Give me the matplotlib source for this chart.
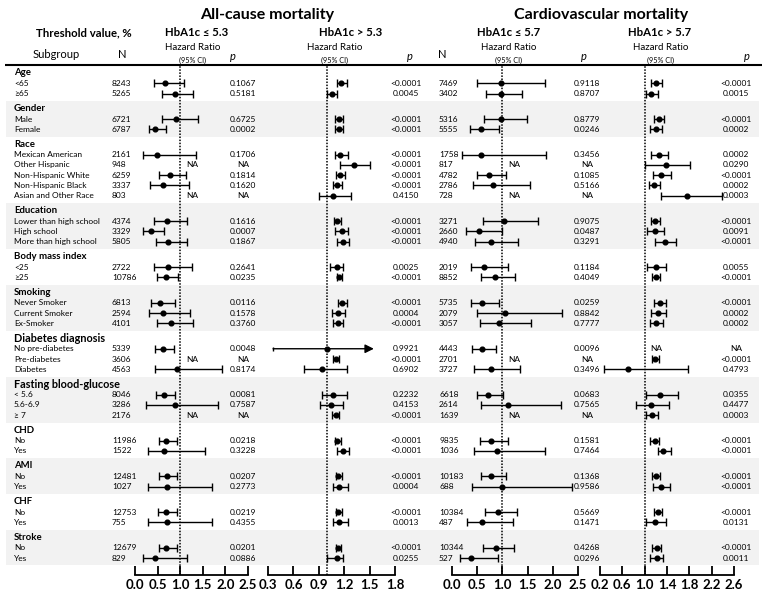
import numpy as np
import matplotlib
matplotlib.use("Agg")
import matplotlib.pyplot as plt

plt.rcParams['font.family'] = ['Lato', 'DejaVu Sans']

nan = np.nan

groups = ["Age", "Gender", "Race", "Education", "Body mass index", "Smoking",
          "Diabetes diagnosis", "Fasting blood-glucose", "CHD", "AMI", "CHF", "Stroke"]
subgroups = [
    ["<65", "≥65"],
    ["Male", "Female"],
    ["Mexican American", "Other Hispanic", "Non-Hispanic White", "Non-Hispanic Black", "Asian and Other Race"],
    ["Lower than high school", "High school", "More than high school"],
    ["<25", "≥25"],
    ["Never Smoker", "Current Smoker", "Ex-Smoker"],
    ["No pre-diabetes", "Pre-diabetes", "Diabetes"],
    ["< 5.6", "5.6-6.9", "≥ 7"],
    ["No", "Yes"],
    ["No", "Yes"],
    ["No", "Yes"],
    ["No", "Yes"],
]
big_headers = ["Diabetes diagnosis", "Fasting blood-glucose"]

# All-cause mortality
n_all = [8243, 5265, 6721, 6787, 2161, 948, 6259, 3337, 803, 4374, 3329, 5805, 2722, 10786,
         6813, 2594, 4101, 5339, 3606, 4563, 8046, 3286, 2176, 11986, 1522, 12481, 1027,
         12753, 755, 12679, 829]
hr1 = [0.66, 0.88, 0.91, 0.44, 0.49, nan, 0.77, 0.63, nan, 0.70, 0.35, 0.72, 0.72, 0.68, 0.55,
       0.61, 0.80, 0.63, nan, 0.92, 0.64, 0.88, nan, 0.69, 0.64, 0.70, 0.70, 0.69, 0.70, 0.69, 0.44]
lo1 = [0.41, 0.60, 0.60, 0.30, 0.17, nan, 0.54, 0.33, nan, 0.43, 0.18, 0.46, 0.43, 0.48, 0.35,
       0.32, 0.49, 0.44, nan, 0.44, 0.46, 0.24, nan, 0.52, 0.28, 0.52, 0.29, 0.50, 0.29, 0.52, 0.17]
hi1 = [1.08, 1.29, 1.40, 0.68, 1.36, nan, 1.12, 1.19, nan, 1.16, 0.64, 1.16, 1.27, 0.96, 0.88,
       1.22, 1.29, 0.86, nan, 1.92, 0.88, 1.83, nan, 0.94, 1.55, 0.94, 1.71, 0.94, 1.71, 0.92, 1.14]
p1 = ["0.1067", "0.5181", "0.6725", "0.0002", "0.1706", "NA", "0.1814", "0.1620", "NA", "0.1616",
      "0.0007", "0.1867", "0.2641", "0.0235", "0.0116", "0.1578", "0.3760", "0.0048", "NA",
      "0.8174", "0.0081", "0.7587", "NA", "0.0218", "0.3228", "0.0207", "0.2773", "0.0219",
      "0.4355", "0.0201", "0.0886"]

hr2 = [1.16, 1.05, 1.14, 1.14, 1.15, 1.32, 1.15, 1.12, 1.07, 1.12, 1.17, 1.19, 1.11, 1.14, 1.17,
       1.13, 1.13, 1.00, 1.10, 0.94, 1.07, 1.04, 1.10, 1.12, 1.18, 1.13, 1.14, 1.13, 1.14, 1.13, 1.11]
lo2 = [1.12, 1.00, 1.09, 1.09, 1.09, 1.15, 1.10, 1.07, 0.90, 1.08, 1.09, 1.12, 1.03, 1.11, 1.13,
       1.06, 1.07, 0.36, 1.07, 0.72, 0.94, 0.92, 1.06, 1.09, 1.11, 1.10, 1.07, 1.10, 1.07, 1.10, 1.00]
hi2 = [1.23, 1.11, 1.19, 1.19, 1.24, 1.51, 1.21, 1.17, 1.28, 1.16, 1.25, 1.26, 1.19, 1.17, 1.23,
       1.21, 1.19, 1.55, 1.14, 1.23, 1.23, 1.19, 1.14, 1.16, 1.26, 1.17, 1.24, 1.17, 1.24, 1.16, 1.19]
arrow2 = [False] * 17 + [True] + [False] * 13
p2 = ["<0.0001", "0.0045", "<0.0001", "<0.0001", "<0.0001", "<0.0001", "<0.0001", "<0.0001",
      "0.4150", "<0.0001", "<0.0001", "<0.0001", "0.0025", "<0.0001", "<0.0001", "0.0004",
      "<0.0001", "0.9921", "<0.0001", "0.6902", "0.2232", "0.4153", "<0.0001", "<0.0001",
      "<0.0001", "<0.0001", "0.0004", "<0.0001", "0.0013", "<0.0001", "0.0255"]

# Cardiovascular mortality
n_cvd = [7469, 3402, 5316, 5555, 1758, 817, 4782, 2786, 728, 3271, 2660, 4940, 2019, 8852, 5735,
         2079, 3057, 4443, 2701, 3727, 6618, 2614, 1639, 9835, 1036, 10183, 688, 10384, 487,
         10344, 527]
hr3 = [0.97, 0.97, 0.98, 0.58, 0.57, nan, 0.73, 0.81, nan, 1.03, 0.54, 0.77, 0.63, 0.85, 0.59,
       1.06, 0.93, 0.59, nan, 0.77, 0.72, 1.11, nan, 0.78, 0.89, 0.78, 0.99, 0.91, 0.60, 0.88, 0.38]
lo3 = [0.50, 0.68, 0.63, 0.36, 0.19, nan, 0.50, 0.42, nan, 0.62, 0.27, 0.45, 0.37, 0.58, 0.38,
       0.50, 0.56, 0.39, nan, 0.44, 0.50, 0.57, nan, 0.56, 0.44, 0.57, 0.40, 0.65, 0.30, 0.62, 0.16]
hi3 = [1.85, 1.38, 1.48, 0.93, 1.86, nan, 1.08, 1.55, nan, 1.71, 1.00, 1.31, 1.12, 1.25, 0.93,
       2.18, 1.57, 0.87, nan, 1.34, 1.02, 2.16, nan, 1.11, 1.85, 1.08, 2.39, 1.28, 1.21, 1.23, 0.92]
p3 = ["0.9118", "0.8707", "0.8779", "0.0246", "0.3456", "NA", "0.1085", "0.5166", "NA", "0.9075",
      "0.0487", "0.3291", "0.1184", "0.4049", "0.0259", "0.8842", "0.7777", "0.0096", "NA",
      "0.3496", "0.0683", "0.7565", "NA", "0.1581", "0.7464", "0.1368", "0.9586", "0.5669",
      "0.1471", "0.4268", "0.0296"]

hr4 = [1.20, 1.11, 1.26, 1.20, 1.26, 1.38, 1.29, 1.17, 1.75, 1.19, 1.18, 1.36, 1.20, 1.20, 1.27,
       1.23, 1.20, nan, 1.18, 0.71, 1.28, 1.11, 1.13, 1.18, 1.32, 1.20, 1.29, 1.24, 1.19, 1.22, 1.22]
lo4 = [1.11, 1.02, 1.17, 1.10, 1.11, 1.01, 1.15, 1.07, 1.29, 1.11, 1.05, 1.19, 1.05, 1.14, 1.17,
       1.11, 1.09, nan, 1.13, 0.28, 1.02, 0.84, 1.02, 1.10, 1.24, 1.13, 1.15, 1.16, 1.02, 1.14, 1.10]
hi4 = [1.31, 1.24, 1.35, 1.31, 1.41, 1.82, 1.47, 1.28, 2.39, 1.28, 1.35, 1.56, 1.38, 1.28, 1.38,
       1.39, 1.33, nan, 1.25, 1.78, 1.60, 1.44, 1.23, 1.26, 1.47, 1.28, 1.45, 1.31, 1.38, 1.29, 1.32]
p4 = ["<0.0001", "0.0015", "<0.0001", "0.0002", "0.0002", "0.0290", "<0.0001", "0.0002", "0.0003",
      "<0.0001", "0.0091", "<0.0001", "0.0055", "<0.0001", "<0.0001", "0.0002", "0.0002", "NA",
      "<0.0001", "0.4793", "0.0355", "0.4477", "0.0003", "<0.0001", "<0.0001", "<0.0001",
      "<0.0001", "<0.0001", "0.0131", "<0.0001", "0.0011"]

ticks1 = [0.0, 0.5, 1.0, 1.5, 2.0, 2.5]
ticks2 = [0.3, 0.6, 0.9, 1.2, 1.5, 1.8]
ticks3 = [0.0, 0.5, 1.0, 1.5, 2.0, 2.5]
ticks4 = [0.2, 0.6, 1.0, 1.4, 1.8, 2.2, 2.6]

# ---------------- layout ----------------
W, H = 767, 599
TOP, BASE = 65, 575
fig = plt.figure(figsize=(W / 100, H / 100), dpi=100)
bg = fig.add_axes([0, 0, 1, 1], zorder=0)
bg.set_xlim(0, W)
bg.set_ylim(H, 0)
bg.axis('off')

H1, S, G = 10.6, 10.25, 14.85
y = 72.7
header_y, item_y = [], []
for gi, items in enumerate(subgroups):
    if gi > 0:
        y += G
    header_y.append(y)
    for k in range(len(items)):
        y += H1 if k == 0 else S
        item_y.append(y)
item_y = np.array(item_y)

# shaded bands
idx = 0
for gi, items in enumerate(subgroups):
    idx += len(items)
    if gi % 2 == 1:
        bg.axhspan(header_y[gi] - G / 2, item_y[idx - 1] + G / 2, xmin=6 / W, xmax=759 / W,
                   color='#f2f2f2', lw=0, zorder=0)

SMALL = 6.0
# group headers and labels
idx = 0
for gi, items in enumerate(subgroups):
    fs = 7.8 if groups[gi] in big_headers else 6.9
    bg.text(14, header_y[gi], groups[gi], fontsize=fs, fontweight='bold', va='center', ha='left')
    for lab in items:
        bg.text(14, item_y[idx], lab, fontsize=SMALL, va='center', ha='left')
        idx += 1

for i in range(len(item_y)):
    yy = item_y[i]
    bg.text(112, yy, str(n_all[i]), fontsize=SMALL, va='center', ha='left')
    bg.text(243, yy, p1[i], fontsize=SMALL, va='center', ha='center')
    bg.text(406, yy, p2[i], fontsize=SMALL, va='center', ha='center')
    bg.text(439, yy, str(n_cvd[i]), fontsize=SMALL, va='center', ha='left')
    bg.text(587, yy, p3[i], fontsize=SMALL, va='center', ha='center')
    bg.text(736, yy, p4[i], fontsize=SMALL, va='center', ha='center')

# column headers
bg.text(267, 15, "All-cause mortality", fontsize=11.5, fontweight='bold', ha='center', va='center')
bg.text(601, 15, "Cardiovascular mortality", fontsize=11.5, fontweight='bold', ha='center', va='center')
bg.text(84, 33, "Threshold value, %", fontsize=8.2, fontweight='bold', ha='center', va='center')
for xc, t in [(197, "HbA1c ≤ 5.3"), (351, "HbA1c > 5.3"), (509, "HbA1c ≤ 5.7"), (660, "HbA1c > 5.7")]:
    bg.text(xc, 33, t, fontsize=8.2, fontweight='bold', ha='center', va='center',
            family=['Lato', 'DejaVu Sans'])
bg.text(56, 55, "Subgroup", fontsize=8, ha='center', va='center')
bg.text(122, 55, "N", fontsize=8, ha='center', va='center')
bg.text(442, 55, "N", fontsize=8, ha='center', va='center')
for xc in [193, 335, 509, 661]:
    bg.text(xc, 48, "Hazard Ratio", fontsize=7, ha='center', va='center')
    bg.text(xc, 60, "(95% CI)", fontsize=5.2, ha='center', va='center')
for xc in [233, 410, 584, 747]:
    bg.text(xc, 57, "p", fontsize=8, style='italic', ha='center', va='center')

bg.plot([5, 762], [TOP, TOP], color='k', lw=1.5, solid_capstyle='butt')


def panel(x0, x1, ticks, hr, lo, hi, arrows=None):
    ax = fig.add_axes([x0 / W, 1 - BASE / H, (x1 - x0) / W, (BASE - TOP) / H], zorder=2)
    ax.set_xlim(ticks[0], ticks[-1])
    ax.set_ylim(BASE, TOP)
    ax.patch.set_alpha(0)
    for s in ['top', 'left', 'right']:
        ax.spines[s].set_visible(False)
    ax.spines['bottom'].set_linewidth(1.3)
    ax.set_yticks([])
    ax.set_xticks(ticks)
    ax.set_xticklabels([f"{t:.1f}" for t in ticks], fontweight='bold')
    ax.tick_params(axis='x', direction='in', length=6.5, width=1.3, pad=3, labelsize=9.5)
    ax.axvline(1.0, color='k', ls=(0, (1, 1)), lw=1.1, zorder=1)
    hr, lo, hi = np.array(hr), np.array(lo), np.array(hi)
    if arrows is None:
        arrows = [False] * len(hr)
    arrows = np.array(arrows)
    ok = ~np.isnan(hr) & ~arrows
    ax.errorbar(hr[ok], item_y[ok], xerr=[hr[ok] - lo[ok], hi[ok] - hr[ok]], fmt='o',
                color='k', ms=3.4, capsize=3.2, elinewidth=1, capthick=1, zorder=3, clip_on=False)
    for i in np.where(arrows)[0]:
        ax.annotate('', xy=(hi[i], item_y[i]), xytext=(lo[i], item_y[i]),
                    arrowprops=dict(arrowstyle='-|>', color='k', lw=1, mutation_scale=13,
                                    shrinkA=0, shrinkB=0), zorder=3)
        ax.plot([lo[i]], [item_y[i]], marker='|', ms=3.2, mew=1, color='k', zorder=3)
        ax.plot([hr[i]], [item_y[i]], marker='o', ms=3.4, color='k', zorder=4)
    for i in np.where(np.isnan(hr))[0]:
        ax.annotate('NA', xy=(1.0, item_y[i]), xytext=(4, 0), textcoords='offset points',
                    fontsize=SMALL, va='center', ha='left')
    return ax


panel(135, 248, ticks1, hr1, lo1, hi1)
panel(268, 395, ticks2, hr2, lo2, hi2, arrow2)
panel(452, 578, ticks3, hr3, lo3, hi3)
panel(600, 734, ticks4, hr4, lo4, hi4)

fig.savefig("out.png", dpi=100)
